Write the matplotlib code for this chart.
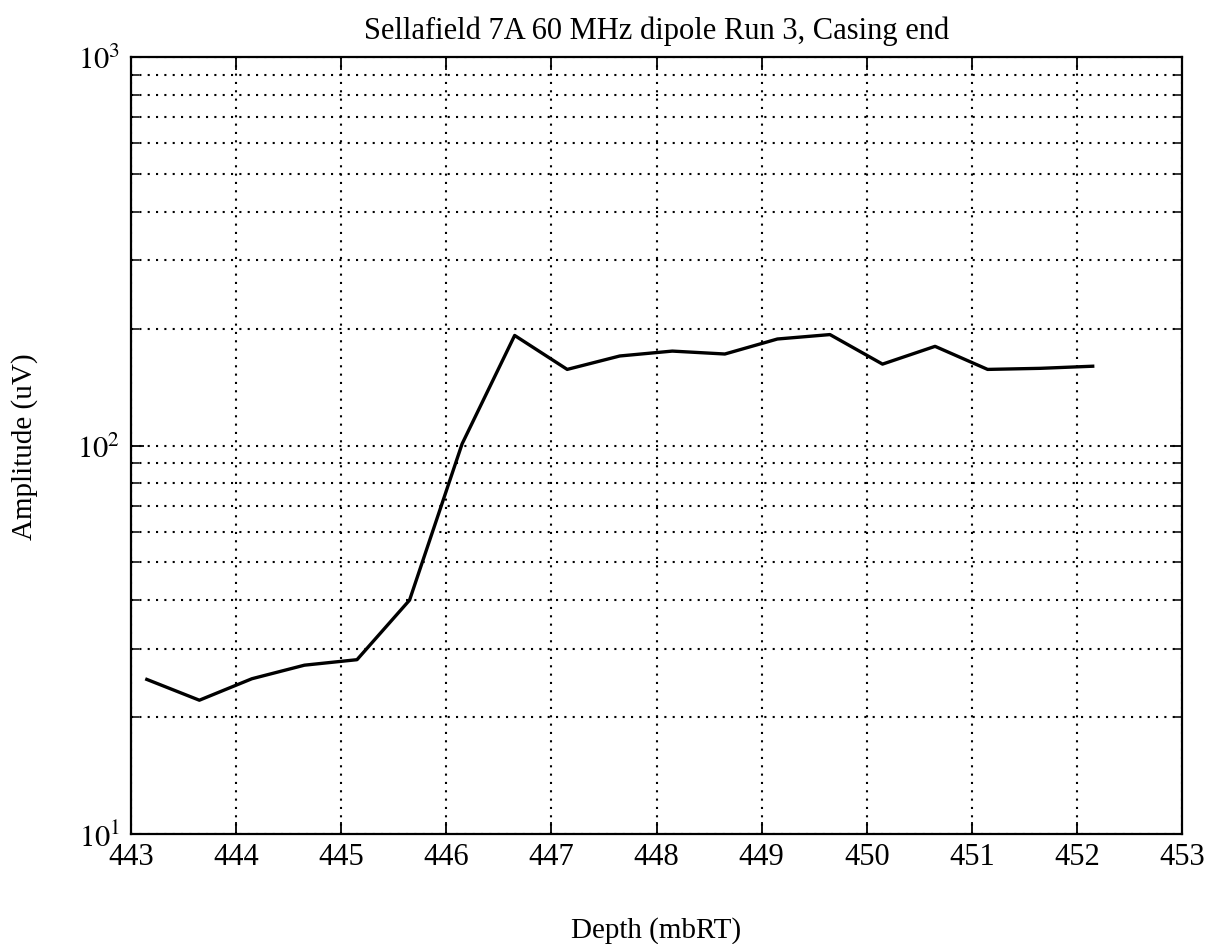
import matplotlib
matplotlib.use("Agg")
import matplotlib.pyplot as plt
from matplotlib.ticker import LogLocator, FixedLocator, NullFormatter

plt.rcParams['font.family'] = ['Liberation Serif', 'DejaVu Serif']
plt.rcParams['mathtext.fontset'] = 'stix'

depth = [443.15, 443.65, 444.15, 444.65, 445.15, 445.65, 446.15, 446.65, 447.15,
         447.65, 448.15, 448.65, 449.15, 449.65, 450.15, 450.65, 451.15, 451.65, 452.15]
amplitude = [25.0, 22.1, 25.1, 27.2, 28.1, 40.0, 101, 192, 157,
             170, 175, 172, 188, 193, 162, 180, 157, 158, 160]
xticks = list(range(443, 454))

fig = plt.figure(figsize=(12.1, 9.45), dpi=100)
ax = fig.add_axes([0.1083, 0.1164, 0.8686, 0.8222])
ax.plot(depth, amplitude, color='black', lw=2.4)
ax.set_yscale('log')
ax.set_xlim(443, 453)
ax.set_ylim(10, 1000)
ax.set_xticks(xticks)
ax.set_xticklabels([str(t) for t in xticks])
ax.yaxis.set_major_locator(FixedLocator([10, 100, 1000]))
ax.set_yticklabels([r'$10^1$', r'$10^2$', r'$10^3$'])
ax.yaxis.set_minor_locator(LogLocator(base=10, subs=range(2, 10)))
ax.yaxis.set_minor_formatter(NullFormatter())
ax.grid(True, which='both', color='black', linestyle=(0, (1, 3)), lw=1.5)
ax.tick_params(which='both', direction='in', top=True, right=True, labelsize=22)
ax.tick_params(axis='x', pad=6)
ax.tick_params(axis='y', pad=8)
ax.tick_params(which='major', length=9, width=1.3)
ax.tick_params(which='minor', length=6, width=1.1)
for s in ax.spines.values():
    s.set_linewidth(1.6)
ax.set_title('Sellafield 7A 60 MHz dipole Run 3, Casing end', fontsize=22, pad=14)
ax.set_xlabel('Depth (mbRT)', fontsize=21)
ax.set_ylabel('Amplitude (uV)', fontsize=21)
ax.xaxis.set_label_coords(0.5, -0.1055)
ax.yaxis.set_label_coords(-0.0885, 0.5)
fig.savefig('out.png', dpi=100)
